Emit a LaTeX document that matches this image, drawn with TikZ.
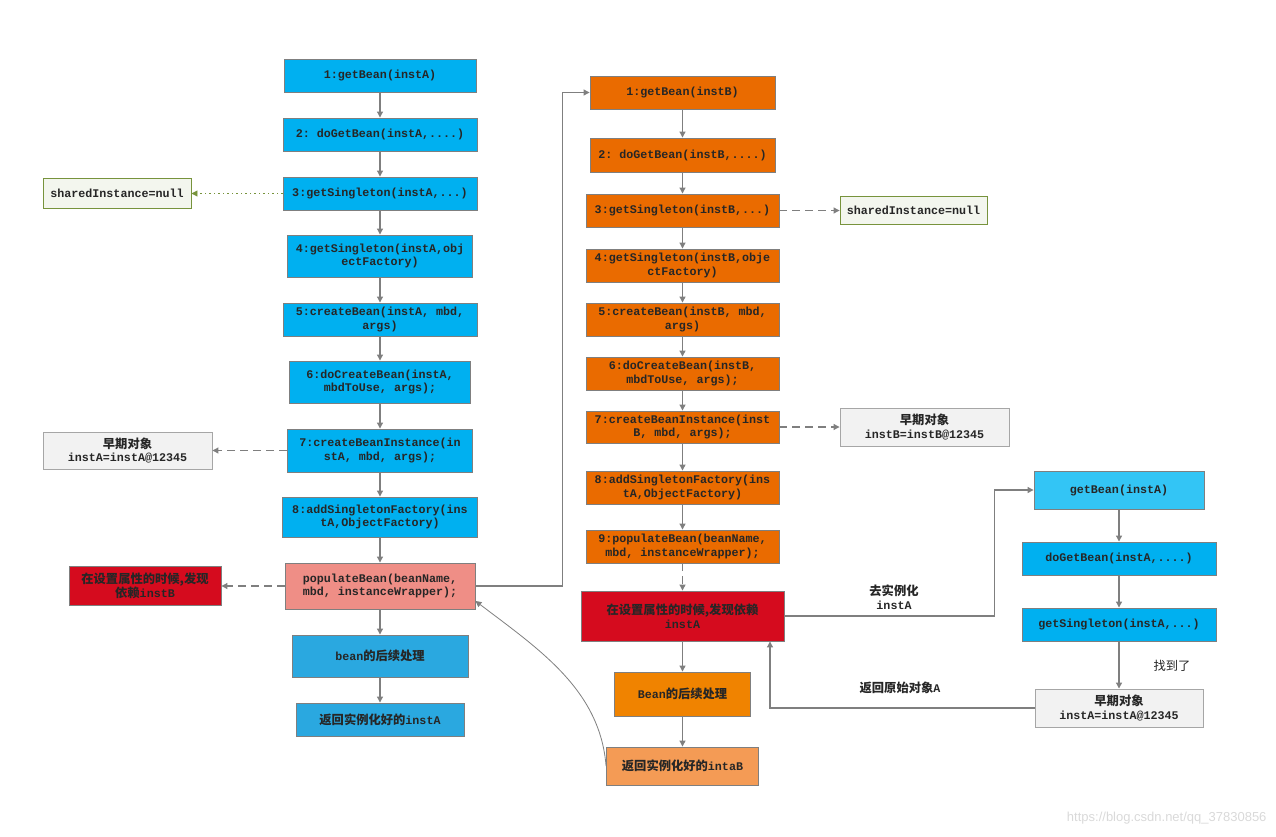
\documentclass[tikz,border=0pt]{standalone}
\usepackage{fontspec}
\setmonofont{Liberation Mono}
\newfontfamily\cjk{Noto Sans CJK SC}[Scale=1.05]
\newfontfamily\wmfont{Liberation Sans}
\usetikzlibrary{arrows.meta}
\definecolor{instablue}{HTML}{00B0F0}
\definecolor{instalight}{HTML}{33C5F5}
\definecolor{instadark}{HTML}{2AA8E0}
\definecolor{instborange}{HTML}{EA6B00}
\definecolor{instbbright}{HTML}{F08300}
\definecolor{instbpale}{HTML}{F49B55}
\definecolor{cyclered}{HTML}{D50B1E}
\definecolor{popsalmon}{HTML}{EF8E86}
\definecolor{notegreen}{HTML}{77933C}
\definecolor{notefill}{HTML}{F3F6EE}
\definecolor{linegray}{HTML}{7F7F7F}
\begin{document}
\begin{tikzpicture}[
  x=1pt,y=-1pt,
  txt/.style={font=\ttfamily\bfseries\fontsize{11.7}{13.5}\selectfont,text=black!85,align=center},
  box/.style={txt,rectangle,draw=linegray,line width=0.9pt,inner sep=0pt},
  sz/.style 2 args={minimum width=#1pt,minimum height=#2pt},
  abox/.style={box,fill=instablue},
  bbox/.style={box,fill=instborange},
  redbox/.style={box,fill=cyclered},
  nullnote/.style={box,draw=notegreen,fill=notefill},
  earlynote/.style={box,draw=black!35,fill=black!5},
  arrow/.style={-{Triangle[length=6pt,width=6pt]},draw=linegray,line width=1.1pt},
  dasharrow/.style={arrow,dash pattern=on 8pt off 5pt},
  dotarrow/.style={arrow,draw=notegreen,line width=0.9pt,dash pattern=on 1.5pt off 3pt}
]
\useasboundingbox (0,0) rectangle (1276,837);

% instA
\node[abox,sz={192}{33}] (a1) at (380,75.5) {1:getBean(instA)};
\node[abox,sz={194}{33}] (a2) at (380,134.5) {2: doGetBean(instA,....)};
\node[abox,sz={194}{33}] (a3) at (380,193.5) {3:getSingleton(instA,...)};
\node[abox,sz={185}{42}] (a4) at (380,256) {4:getSingleton(instA,obj\\ectFactory)};
\node[abox,sz={194}{33}] (a5) at (380,319.5) {5:createBean(instA, mbd,\\args)};
\node[abox,sz={181}{42}] (a6) at (380,382) {6:doCreateBean(instA,\\mbdToUse, args);};
\node[abox,sz={185}{43}] (a7) at (380,450.5) {7:createBeanInstance(in\\stA, mbd, args);};
\node[abox,sz={195}{40}] (a8) at (380,517) {8:addSingletonFactory(ins\\tA,ObjectFactory)};
\node[box,fill=popsalmon,sz={190}{46}] (a9) at (380,586) {populateBean(beanName,\\mbd, instanceWrapper);};
\node[box,fill=instadark,sz={176}{42}] (a10) at (380,656) {bean{\cjk 的后续处理}};
\node[box,fill=instadark,sz={168}{33}] (a11) at (380,719.5) {{\cjk 返回实例化好的}instA};

\node[nullnote,sz={148}{30}] (s1) at (117,193.5) {sharedInstance=null};
\node[earlynote,sz={169}{37}] (e1) at (127.5,450.5) {{\cjk 早期对象}\\instA=instA@12345};
\node[redbox,sz={152}{39}] (r1) at (145,586) {{\cjk 在设置属性的时候,发现}\\{\cjk 依赖}instB};

% instB
\node[bbox,sz={185}{33}] (b1) at (682.5,92.5) {1:getBean(instB)};
\node[bbox,sz={185}{34}] (b2) at (682.5,155) {2: doGetBean(instB,....)};
\node[bbox,sz={193}{33}] (b3) at (682.5,210.5) {3:getSingleton(instB,...)};
\node[bbox,sz={193}{33}] (b4) at (682.5,265.5) {4:getSingleton(instB,obje\\ctFactory)};
\node[bbox,sz={193}{33}] (b5) at (682.5,319.5) {5:createBean(instB, mbd,\\args)};
\node[bbox,sz={193}{33}] (b6) at (682.5,373.5) {6:doCreateBean(instB,\\mbdToUse, args);};
\node[bbox,sz={193}{32}] (b7) at (682.5,427) {7:createBeanInstance(inst\\B, mbd, args);};
\node[bbox,sz={193}{33}] (b8) at (682.5,487.5) {8:addSingletonFactory(ins\\tA,ObjectFactory)};
\node[bbox,sz={193}{33}] (b9) at (682.5,546.5) {9:populateBean(beanName,\\mbd, instanceWrapper);};
\node[redbox,sz={203}{50}] (b10) at (682.5,616) {{\cjk 在设置属性的时候,发现依赖}\\instA};
\node[box,fill=instbbright,sz={136}{44}] (b11) at (682.5,694) {Bean{\cjk 的后续处理}};
\node[box,fill=instbpale,sz={152}{38}] (b12) at (682.5,766) {{\cjk 返回实例化好的}intaB};

\node[nullnote,sz={147}{28}] (s2) at (913.5,210.5) {sharedInstance=null};
\node[earlynote,sz={169}{38}] (e2) at (924.5,427) {{\cjk 早期对象}\\instB=instB@12345};

% instA again
\node[box,fill=instalight,sz={170}{38}] (c1) at (1119,490) {getBean(instA)};
\node[abox,sz={194}{33}] (c2) at (1119,558.5) {doGetBean(instA,....)};
\node[abox,sz={194}{33}] (c3) at (1119,624.5) {getSingleton(instA,...)};
\node[earlynote,sz={168}{38}] (c4) at (1119,708) {{\cjk 早期对象}\\instA=instA@12345};

\node[txt] (l1) at (894,597) {{\cjk 去实例化}\\instA};
\node[txt] (l2) at (900,688) {{\cjk 返回原始对象}A};
\node[txt,font=\cjk\fontsize{11.7}{13.5}\selectfont] (l3) at (1172,666) {找到了};
\node[font=\wmfont\fontsize{13}{13}\selectfont,text=black!15,anchor=east] (wm) at (1270,818) {https://blog.csdn.net/qq\_37830856};

\draw[arrow] (a1) -- (a2);
\draw[arrow] (a2) -- (a3);
\draw[arrow] (a3) -- (a4);
\draw[arrow] (a4) -- (a5);
\draw[arrow] (a5) -- (a6);
\draw[arrow] (a6) -- (a7);
\draw[arrow] (a7) -- (a8);
\draw[arrow] (a8) -- (a9);
\draw[arrow] (a9) -- (a10);
\draw[arrow] (a10) -- (a11);
\draw[dotarrow] (a3) -- (s1);
\draw[dasharrow] (a7) -- (e1);
\draw[dasharrow] (a9) -- (r1);
\draw[arrow] (a9.east) -- ++(87,0) |- (b1.west);

\draw[arrow] (b1) -- (b2);
\draw[arrow] (b2) -- (b3);
\draw[arrow] (b3) -- (b4);
\draw[arrow] (b4) -- (b5);
\draw[arrow] (b5) -- (b6);
\draw[arrow] (b6) -- (b7);
\draw[arrow] (b7) -- (b8);
\draw[arrow] (b8) -- (b9);
\draw[dasharrow] (b9) -- (b10);
\draw[arrow] (b10) -- (b11);
\draw[arrow] (b11) -- (b12);
\draw[dasharrow] (b3) -- (s2);
\draw[dasharrow] (b7) -- (e2);
\draw[arrow,line width=0.8pt] (b12.west) .. controls (600,690) and (540,650) .. ([yshift=-15pt]a9.east);

\draw[arrow] (b10.east) -- ++(210,0) |- (c1.west);
\draw[arrow] (c1) -- (c2);
\draw[arrow] (c2) -- (c3);
\draw[arrow] (c3) -- (c4);
\draw[arrow] (c4.west) -| ([xshift=87.5pt]b10.south);
\end{tikzpicture}
\end{document}
